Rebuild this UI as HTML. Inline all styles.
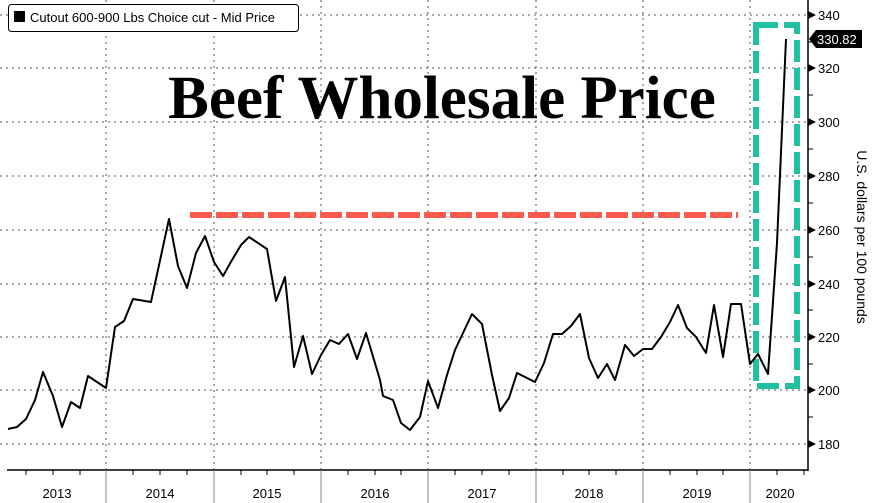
<!DOCTYPE html>
<html><head><meta charset="utf-8"><style>
html,body{margin:0;padding:0;background:#fff;width:886px;height:503px;overflow:hidden}
svg{display:block}
</style></head><body>
<svg width="886" height="503" viewBox="0 0 886 503" xmlns="http://www.w3.org/2000/svg" font-family="'Liberation Sans', sans-serif">
<rect width="886" height="503" fill="#fff"/>
<g stroke="#555" stroke-width="1" stroke-dasharray="2,4">
<line x1="0" y1="15" x2="808" y2="15"/>
<line x1="0" y1="68" x2="808" y2="68"/>
<line x1="0" y1="122" x2="808" y2="122"/>
<line x1="0" y1="176" x2="808" y2="176"/>
<line x1="0" y1="230" x2="808" y2="230"/>
<line x1="0" y1="284" x2="808" y2="284"/>
<line x1="0" y1="337" x2="808" y2="337"/>
<line x1="0" y1="390" x2="808" y2="390"/>
<line x1="0" y1="444" x2="808" y2="444"/>
<line x1="106" y1="0" x2="106" y2="470"/>
<line x1="214" y1="0" x2="214" y2="470"/>
<line x1="321" y1="0" x2="321" y2="470"/>
<line x1="428" y1="0" x2="428" y2="470"/>
<line x1="536" y1="0" x2="536" y2="470"/>
<line x1="643" y1="0" x2="643" y2="470"/>
<line x1="750" y1="0" x2="750" y2="470"/>
</g>
<line x1="808" y1="0" x2="808" y2="471" stroke="#000" stroke-width="1.5"/>
<line x1="7" y1="470" x2="808" y2="470" stroke="#000" stroke-width="1.5"/>
<g stroke="#888" stroke-width="1">
<line x1="106" y1="470" x2="106" y2="503"/><line x1="214" y1="470" x2="214" y2="503"/><line x1="321" y1="470" x2="321" y2="503"/><line x1="428" y1="470" x2="428" y2="503"/><line x1="536" y1="470" x2="536" y2="503"/><line x1="643" y1="470" x2="643" y2="503"/><line x1="750" y1="470" x2="750" y2="503"/>
</g>
<g stroke="#000" stroke-width="1">
<line x1="26" y1="470" x2="26" y2="475"/><line x1="53" y1="470" x2="53" y2="475"/><line x1="80" y1="470" x2="80" y2="475"/>
<line x1="133" y1="470" x2="133" y2="475"/><line x1="160" y1="470" x2="160" y2="475"/><line x1="187" y1="470" x2="187" y2="475"/>
<line x1="241" y1="470" x2="241" y2="475"/><line x1="267" y1="470" x2="267" y2="475"/><line x1="294" y1="470" x2="294" y2="475"/>
<line x1="348" y1="470" x2="348" y2="475"/><line x1="375" y1="470" x2="375" y2="475"/><line x1="401" y1="470" x2="401" y2="475"/>
<line x1="455" y1="470" x2="455" y2="475"/><line x1="482" y1="470" x2="482" y2="475"/><line x1="509" y1="470" x2="509" y2="475"/>
<line x1="563" y1="470" x2="563" y2="475"/><line x1="589" y1="470" x2="589" y2="475"/><line x1="616" y1="470" x2="616" y2="475"/>
<line x1="670" y1="470" x2="670" y2="475"/><line x1="697" y1="470" x2="697" y2="475"/><line x1="723" y1="470" x2="723" y2="475"/>
<line x1="777" y1="470" x2="777" y2="475"/><line x1="804" y1="470" x2="804" y2="475"/>
<line x1="808" y1="42" x2="813" y2="42"/><line x1="808" y1="95" x2="813" y2="95"/><line x1="808" y1="149" x2="813" y2="149"/><line x1="808" y1="203" x2="813" y2="203"/><line x1="808" y1="257" x2="813" y2="257"/><line x1="808" y1="310" x2="813" y2="310"/><line x1="808" y1="364" x2="813" y2="364"/><line x1="808" y1="417" x2="813" y2="417"/>
</g>
<g fill="#000">
<polygon points="808,11 816,15 808,19"/><polygon points="808,64 816,68 808,72"/><polygon points="808,118 816,122 808,126"/><polygon points="808,172 816,176 808,180"/><polygon points="808,226 816,230 808,234"/><polygon points="808,280 816,284 808,288"/><polygon points="808,333 816,337 808,341"/><polygon points="808,386 816,390 808,394"/><polygon points="808,440 816,444 808,448"/>
</g>
<g font-size="13" fill="#000">
<text x="818" y="20">340</text><text x="818" y="73">320</text><text x="818" y="127">300</text><text x="818" y="181">280</text><text x="818" y="235">260</text><text x="818" y="289">240</text><text x="818" y="342">220</text><text x="818" y="395">200</text><text x="818" y="449">180</text>
</g>
<polygon points="809,39 816,30 862,30 862,48 816,48" fill="#000"/>
<text x="817" y="44" font-size="13" fill="#fff">330.82</text>
<text transform="translate(857,237) rotate(90)" text-anchor="middle" font-size="14" fill="#000">U.S. dollars per 100 pounds</text>
<g font-size="13" fill="#000" text-anchor="middle">
<text x="57" y="498">2013</text><text x="160" y="498">2014</text><text x="267" y="498">2015</text><text x="375" y="498">2016</text><text x="482" y="498">2017</text><text x="589" y="498">2018</text><text x="697" y="498">2019</text><text x="780" y="498">2020</text>
</g>
<line x1="190" y1="215" x2="738" y2="215" stroke="#ff5a4e" stroke-width="6" stroke-dasharray="22,4"/>
<rect x="756" y="25" width="41" height="361" fill="none" stroke="#1fc1a0" stroke-width="6" stroke-dasharray="22,6"/>
<polyline fill="none" stroke="#000" stroke-width="2" stroke-linejoin="round" points="8,429 17,427 26,419 35,400 43,372 53,396 62,427 71,402 80,408 88,376 106,388 115,327 124,321 133,299 151,302 169,219 178,266 187,288 196,253 205,236 214,262 223,276 232,260 241,245 249,237 267,249 276,301 285,277 294,367 303,336 312,374 321,355 330,340 339,344 348,334 357,359 366,333 380,380 383,396 393,400 401,423 410,430 420,417 428,381 438,408 447,375 455,350 463,333 472,314 482,324 492,375 500,411 509,398 517,373 535,382 544,363 553,334 562,334 571,326 580,314 589,358 598,378 607,364 615,380 625,345 634,356 643,349 652,349 661,337 670,322 678,305 687,328 696,337 706,353 714,305 723,357 731,304 741,304 750,364 758,354 768,374 777,243 786,39"/>
<text x="442" y="118" text-anchor="middle" font-family="'Liberation Serif', serif" font-weight="bold" font-size="61" fill="#000">Beef Wholesale Price</text>
<rect x="8.5" y="4.5" width="290" height="27" rx="3" fill="#fff" stroke="#000" stroke-width="1"/>
<rect x="14" y="11" width="11" height="11" fill="#000"/>
<text x="30" y="22" font-size="13" fill="#000">Cutout 600-900 Lbs Choice cut - Mid Price</text>
</svg>
</body></html>
